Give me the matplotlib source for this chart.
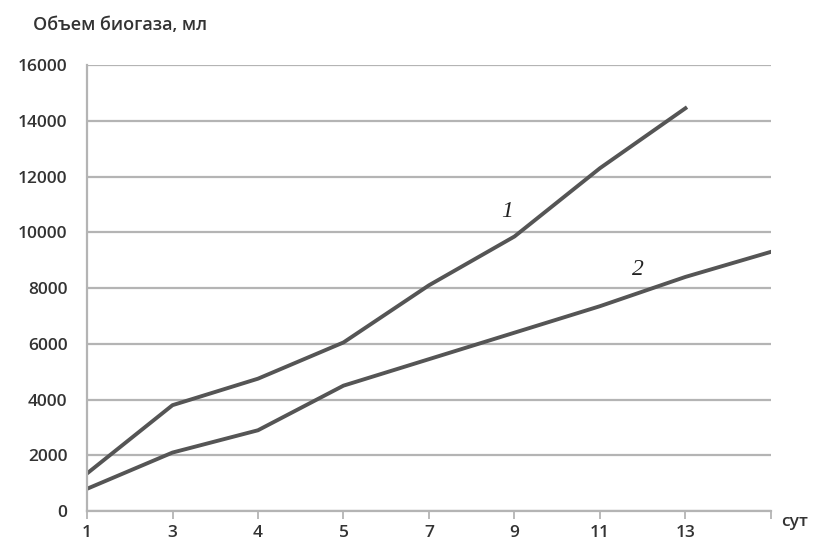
import matplotlib
matplotlib.use("Agg")
import matplotlib.pyplot as plt

# Данные
days = ["1", "3", "4", "5", "7", "9", "11", "13", ""]
series_1 = [1350, 3800, 4750, 6050, 8100, 9850, 12300, 14450]
series_2 = [800, 2100, 2900, 4500, 5450, 6400, 7350, 8400, 9300]
y_ticks = [0, 2000, 4000, 6000, 8000, 10000, 12000, 14000, 16000]

plt.rcParams['font.family'] = ['Open Sans', 'DejaVu Sans']

fig = plt.figure(figsize=(8.21, 5.42), dpi=100)
ax = fig.add_axes([0.106, 0.057, 0.833, 0.823])

line_col = "#555555"
grid_col = "#b4b4b4"
text_col = "#333333"

x_all = list(range(len(days)))
ax.plot(x_all[:len(series_1)], series_1, color=line_col, lw=2.8, solid_joinstyle="round")
ax.plot(x_all[:len(series_2)], series_2, color=line_col, lw=2.8, solid_joinstyle="round")

ax.set_xlim(0, len(days) - 1)
ax.set_ylim(0, 16000)
ax.set_yticks(y_ticks)
ax.set_yticklabels([str(v) for v in y_ticks], fontsize=12.5, color=text_col, fontweight="semibold")
ax.set_xticks(x_all)
ax.set_xticklabels(days, fontsize=12.5, color=text_col, fontweight="semibold")

ax.yaxis.grid(True, color=grid_col, lw=1.6)
ax.set_axisbelow(True)
for s in ["top", "right"]:
    ax.spines[s].set_visible(False)
ax.spines["left"].set_color(grid_col)
ax.spines["left"].set_linewidth(1.6)
ax.spines["bottom"].set_color(grid_col)
ax.spines["bottom"].set_linewidth(1.6)
ax.tick_params(axis="y", length=0, pad=14)
ax.tick_params(axis="x", length=6, width=1.3, color=grid_col, pad=4, direction="out")

fig.text(0.04, 0.953, "Объем биогаза, мл", fontsize=13, color=text_col,
         fontweight="semibold", va="center")
fig.text(0.951, 0.037, "сут", fontsize=12.5, color=text_col,
         fontweight="semibold", va="center")

ax.text(4.91, 10730, "1", fontsize=17, style="italic", family="Liberation Serif",
        color="#222222", ha="center", va="center")
ax.text(6.44, 8680, "2", fontsize=17, style="italic", family="Liberation Serif",
        color="#222222", ha="center", va="center")

fig.savefig("out.png", dpi=100)
